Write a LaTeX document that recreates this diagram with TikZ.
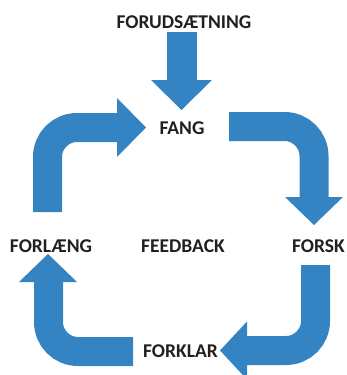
\documentclass[tikz,border=0pt]{standalone}
\usepackage{fontspec}
\setmainfont{Carlito}
\definecolor{blu}{HTML}{3484C4}
\definecolor{ink}{HTML}{231F20}

\begin{document}
\begin{tikzpicture}[
  x=1pt, y=-1pt,
  font=\bfseries\fontsize{19.5}{22}\selectfont,
  lab/.style={text=ink, inner sep=0pt, anchor=center},
  shaft/.style={draw=blu, line width=29pt, line cap=butt, rounded corners=29.5pt},
  head/.style={fill=blu}
]
\useasboundingbox (0,0) rectangle (347,375);

% ---------------------------------------------------------------- labels
\node[lab] (pre)  at (184,22)    {FORUDSÆTNING};
\node[lab] (fang) at (182,128)   {FANG};
\node[lab] (fb)   at (183,246)   {FEEDBACK};
\node[lab] (forl) at (51,246)    {FORLÆNG};
\node[lab] (fors) at (318.5,246) {FORSK};
\node[lab] (fork) at (180.5,351) {FORKLAR};

% ---------------------------------------------------------------- straight arrow into FANG
\draw[shaft, line width=30pt] (182,32) -- (182,80);
\fill[head] (151,80) -- (212,80) -- (181.5,110) -- cycle;

% ---------------------------------------------------------------- bent arrows round the loop
% FORLÆNG -> FANG
\draw[shaft] (47.5,212) |- (117,127.5);
\fill[head] (117,98) -- (146,127.5) -- (117,157) -- cycle;
% FANG -> FORSK
\draw[shaft] (229,126.5) -| (314,197);
\fill[head] (285,197) -- (343,197) -- (314,225) -- cycle;
% FORSK -> FORKLAR
\draw[shaft] (315.5,265) |- (247,350.5);
\fill[head] (247,321.5) -- (220,350.5) -- (247,379.5) -- cycle;
% FORKLAR -> FORLÆNG
\draw[shaft] (133,351.5) -| (48.5,282);
\fill[head] (19,282) -- (77,282) -- (48,254) -- cycle;
\end{tikzpicture}
\end{document}
